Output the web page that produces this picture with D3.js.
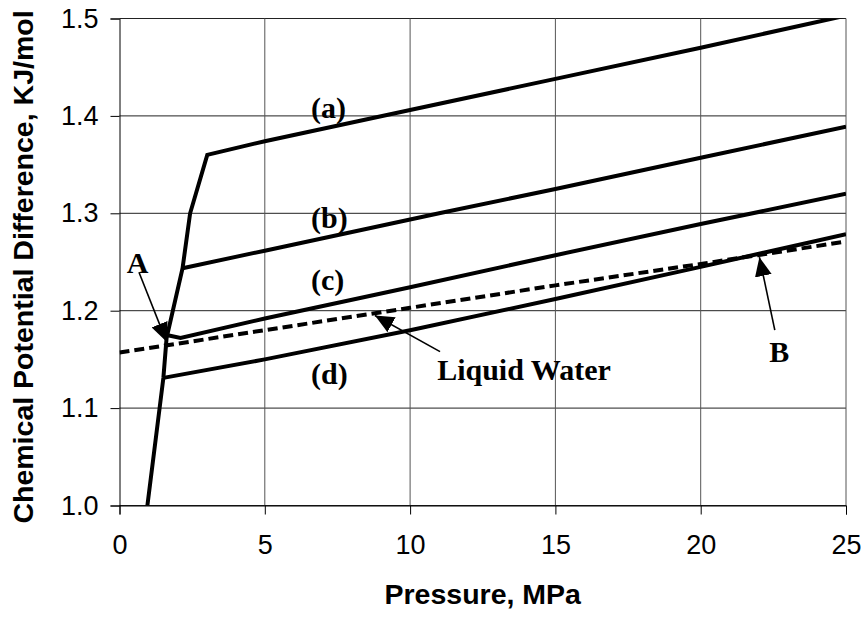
<!DOCTYPE html>
<html>
<head>
<meta charset="utf-8">
<script src="https://cdn.jsdelivr.net/npm/d3@7"></script>
<style>
  body { margin: 0; background: #fff; }
  svg { display: block; }
</style>
</head>
<body>
<div id="chart"></div>
<script>
// Datos (presión en MPa, diferencia de potencial en KJ/mol)
const xTicks = [0, 5, 10, 15, 20, 25];
const yTicks = [1.0, 1.1, 1.2, 1.3, 1.4, 1.5];

// curva (a): incluye el tramo casi vertical desde 1.0
const curveAP = [0.96, 1.51, 1.62, 2.17, 2.43, 3.02, 5, 10, 15, 20, 25];
const curveAV = [1.0, 1.131, 1.172, 1.2436, 1.30, 1.360, 1.374, 1.406, 1.438, 1.470, 1.503];
const curveBP = [2.17, 5, 11, 15, 20, 25];
const curveBV = [1.2436, 1.2616, 1.300, 1.325, 1.357, 1.389];
const curveCP = [1.62, 2.1, 5, 10, 15, 20, 25];
const curveCV = [1.175, 1.172, 1.192, 1.224, 1.257, 1.289, 1.320];
const curveDP = [1.51, 5, 10, 15, 20, 25];
const curveDV = [1.131, 1.150, 1.180, 1.212, 1.245, 1.2785];
const waterP = [0, 5, 10, 15, 20, 25];
const waterV = [1.157, 1.180, 1.203, 1.226, 1.248, 1.271];

const W = 865, H = 617;
const margin = {top: 18.5, right: 19, bottom: 111.5, left: 119.5};
const width = W - margin.left - margin.right;
const height = H - margin.top - margin.bottom;

const svg = d3.select("#chart")
    .append("svg")
    .attr("width", W)
    .attr("height", H);

const x = d3.scaleLinear().domain([0, 25]).range([margin.left, margin.left + width]);
const y = d3.scaleLinear().domain([1.0, 1.5]).range([margin.top + height, margin.top]);

// Rejilla
svg.append("g")
    .selectAll("line")
    .data(yTicks)
    .join("line")
    .attr("x1", x(0)).attr("x2", x(25))
    .attr("y1", d => y(d)).attr("y2", d => y(d))
    .attr("stroke", "#222").attr("stroke-width", 1);

svg.append("g")
    .selectAll("line")
    .data(xTicks.slice(1))
    .join("line")
    .attr("x1", d => x(d)).attr("x2", d => x(d))
    .attr("y1", y(1.0)).attr("y2", y(1.5))
    .attr("stroke", "#555").attr("stroke-width", 1);

// Ejes
const xAxis = svg.append("g")
    .attr("transform", `translate(0,${y(1.0)})`)
    .call(d3.axisBottom(x).tickValues(xTicks).tickSize(9).tickPadding(20).tickFormat(d3.format("d")));
const yAxis = svg.append("g")
    .attr("transform", `translate(${x(0)},0)`)
    .call(d3.axisLeft(y).tickValues(yTicks).tickSize(9).tickPadding(12).tickFormat(d3.format(".1f")));

[xAxis, yAxis].forEach(a => {
    a.select(".domain").attr("stroke", "#000");
    a.selectAll(".tick line").attr("stroke", "#000");
    a.selectAll("text")
        .attr("fill", "#000")
        .style("font-family", "'Liberation Sans', Arial, sans-serif")
        .style("font-size", "27px");
});
xAxis.selectAll("text").attr("dy", "0.71em");

// Títulos de ejes
svg.append("text")
    .attr("x", (x(0) + x(25)) / 2)
    .attr("y", 604)
    .attr("text-anchor", "middle")
    .style("font-family", "'Liberation Sans', Arial, sans-serif")
    .style("font-weight", "bold")
    .style("font-size", "28.5px")
    .text("Pressure, MPa");

svg.append("text")
    .attr("transform", `translate(33,${(y(1.0) + y(1.5)) / 2 + 5}) rotate(-90)`)
    .attr("text-anchor", "middle")
    .style("font-family", "'Liberation Sans', Arial, sans-serif")
    .style("font-weight", "bold")
    .style("font-size", "28.5px")
    .text("Chemical Potential Difference, KJ/mol");

// Recorte al área del gráfico
svg.append("clipPath").attr("id", "plot")
    .append("rect")
    .attr("x", x(0)).attr("y", y(1.5))
    .attr("width", x(25) - x(0)).attr("height", y(1.0) - y(1.5));

const line = d3.line().x(d => x(d[0])).y(d => y(d[1]));
const zip = (ps, vs) => ps.map((p, i) => [p, vs[i]]);

const curves = [
    {data: zip(curveAP, curveAV), dash: null},
    {data: zip(curveBP, curveBV), dash: null},
    {data: zip(curveCP, curveCV), dash: null},
    {data: zip(curveDP, curveDV), dash: null},
    {data: zip(waterP, waterV), dash: "10,5"}
];

svg.append("g")
    .attr("clip-path", "url(#plot)")
    .selectAll("path")
    .data(curves)
    .join("path")
    .attr("d", d => line(d.data))
    .attr("fill", "none")
    .attr("stroke", "#000")
    .attr("stroke-width", 4)
    .attr("stroke-linejoin", "miter")
    .attr("stroke-dasharray", d => d.dash);

// Flechas y etiquetas
svg.append("defs").append("marker")
    .attr("id", "head")
    .attr("markerUnits", "userSpaceOnUse")
    .attr("viewBox", "0 0 19 17")
    .attr("refX", 19).attr("refY", 8.5)
    .attr("markerWidth", 19).attr("markerHeight", 17)
    .attr("orient", "auto")
    .append("path")
    .attr("d", "M0,0L19,8.5L0,17Z")
    .attr("fill", "#000");

const arrows = [
    {from: [0.67, 1.2395], to: [1.62, 1.168]},
    {from: [11.03, 1.158], to: [8.79, 1.195]},
    {from: [22.55, 1.180], to: [22.02, 1.255]}
];
svg.append("g")
    .selectAll("line")
    .data(arrows)
    .join("line")
    .attr("x1", d => x(d.from[0])).attr("y1", d => y(d.from[1]))
    .attr("x2", d => x(d.to[0])).attr("y2", d => y(d.to[1]))
    .attr("stroke", "#000").attr("stroke-width", 1.6)
    .attr("marker-end", "url(#head)");

const labels = [
    {text: "(a)", p: 6.59, v: 1.398, anchor: "start"},
    {text: "(b)", p: 6.59, v: 1.285, anchor: "start"},
    {text: "(c)", p: 6.59, v: 1.2215, anchor: "start"},
    {text: "(d)", p: 6.59, v: 1.1245, anchor: "start"},
    {text: "Liquid Water", p: 10.93, v: 1.129, anchor: "start"},
    {text: "A", p: 0.62, v: 1.239, anchor: "middle"},
    {text: "B", p: 22.7, v: 1.147, anchor: "middle"}
];
svg.append("g")
    .selectAll("text")
    .data(labels)
    .join("text")
    .attr("x", d => x(d.p))
    .attr("y", d => y(d.v))
    .attr("text-anchor", d => d.anchor)
    .style("font-family", "'Liberation Serif', 'Times New Roman', serif")
    .style("font-weight", "bold")
    .style("font-size", "30px")
    .text(d => d.text);
</script>
</body>
</html>
